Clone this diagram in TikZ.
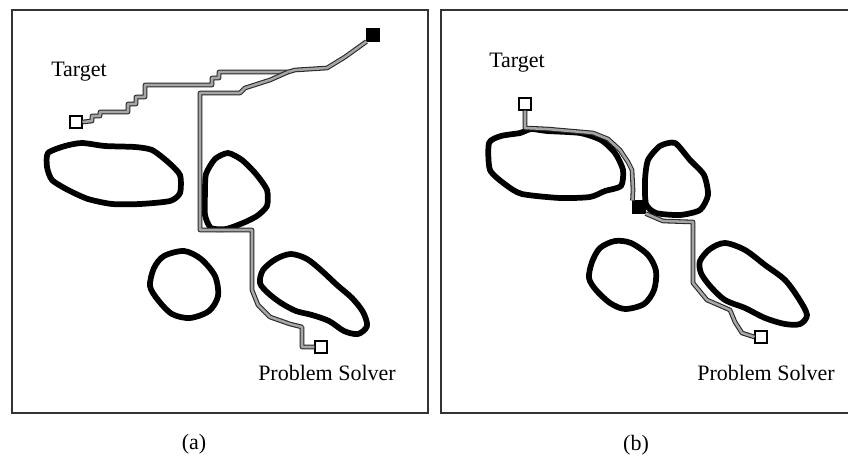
\documentclass[tikz,border=0pt]{standalone}
\usepackage{fontspec}
\setmainfont{Liberation Serif}
\usetikzlibrary{positioning}

\begin{document}
\begin{tikzpicture}[
  x=0.75pt, y=-0.75pt,
  font=\fontsize{16.5}{18}\selectfont,
  frame/.style={draw=black!80, line width=1.5pt},
  obst/.style={draw=black, line width=4.3pt, line join=round},
  trail/.style={draw=black!85, double=black!35, double distance=1.9pt, line width=0.8pt, line join=round},
  agent/.style={draw, fill=white, line width=0.8pt, minimum size=9pt, inner sep=0pt},
  solver/.style={agent, fill=black},
  lbl/.style={inner sep=0pt},
]
\useasboundingbox (0,0) rectangle (848,460);

% --- panel frames ---
\draw[frame] (12,10) rectangle (428,413);
\draw[frame] (848,10) -- (441,10) -- (441,413) -- (848,413);

% --- panel (a): obstacles ---
\draw[obst] plot[smooth cycle, tension=0.4] coordinates {(48,153) (65,146) (82,143) (105,146) (135,147) (152,150) (168,162) (180,175) (180,193) (170,201) (140,204) (112,204) (88,199) (68,190) (52,180) (47,167)};
\draw[obst] plot[smooth cycle, tension=0.4] coordinates {(206,174) (215,159) (228,153) (242,160) (256,174) (267,190) (267,206) (257,216) (243,223) (226,229) (211,228) (205,215) (205,193)};
\draw[obst] plot[smooth cycle, tension=0.5] coordinates {(164,256) (184,251) (201,259) (215,276) (218,296) (209,311) (190,318) (172,314) (158,300) (150,286) (154,268)};
\draw[obst] plot[smooth cycle, tension=0.5] coordinates {(263,270) (276,259) (291,254) (307,259) (322,271) (337,285) (352,298) (363,312) (367,326) (358,334) (344,331) (329,321) (312,315) (296,311) (281,303) (268,293) (260,283)};

% --- panel (a): agents and labels ---
\node[agent] (tgtA) at (76,122) {};
\node[solver] (startA) at (373,35) {};
\node[agent] (psA) at (321,347) {};
\node[lbl] (tgtAtxt) at (79,72) {Target};
\node[lbl] (psAtxt) at (327,373) {Problem Solver};
\node[lbl] (capA) at (194,444) {(a)};

% --- panel (a): trails ---
\coordinate (forkA) at (288,72);
\draw[trail] (tgtA.east) -- (92,121) -- (92,116) -- (100,116) -- (100,112) -- (128,112)
  -- (128,104) -- (136,104) -- (136,97) -- (145,97) -- (145,85) -- (212,85) -- (212,78)
  -- (219,78) -- (219,72) -- (forkA) -- (295,70) -- (327,68) -- (345,57) -- (startA.south west);
\draw[trail] (forkA) -- (270,80) -- (245,88) -- (240,93) -- (200,93) -- (200,230)
  -- (252,230) -- (252,290) -- (258,305) -- (270,317) -- (290,324) -- (302,327)
  -- (302,347) -- (psA.west);

% --- panel (b): obstacles ---
\draw[obst] plot[smooth cycle, tension=0.4] coordinates {(489,143) (501,136) (520,133) (531,129) (547,131) (580,133) (601,140) (615,153) (623,170) (621,186) (605,191) (590,197) (560,198) (522,194) (506,185) (490,170)};
\draw[obst] plot[smooth cycle, tension=0.4] coordinates {(648,160) (660,146) (675,143) (690,160) (704,175) (708,195) (700,210) (680,215) (656,213) (646,204) (645,180)};
\draw[obst] plot[smooth cycle, tension=0.5] coordinates {(600,248) (615,241) (631,243) (648,255) (656,271) (654,290) (644,304) (625,309) (610,303) (596,290) (589,278) (592,262)};
\draw[obst] plot[smooth cycle, tension=0.5] coordinates {(700,261) (710,249) (725,243) (745,250) (765,265) (785,280) (799,299) (807,315) (800,324) (785,324) (765,318) (745,308) (725,300) (710,286) (701,273)};

% --- panel (b): agents and labels ---
\node[agent] (tgtB) at (525,104) {};
\node[solver] (meetB) at (639,207) {};
\node[agent] (psB) at (761,337) {};
\node[lbl] (tgtBtxt) at (517,63) {Target};
\node[lbl] (psBtxt) at (766,373) {Problem Solver};
\node[lbl] (capB) at (636,445) {(b)};

% --- panel (b): trail ---
\draw[trail] (tgtB.south) -- (525,128) -- (547,129) -- (593,133) -- (608,139) -- (620,150)
  -- (628,162) -- (632,170) -- (633,190) -- (meetB.north west);
\draw[trail] (meetB.south east) -- (663,221) -- (693,222) -- (693,283) -- (707,300)
  -- (730,310) -- (735,322) -- (742,333) -- (psB.west);

\end{tikzpicture}
\end{document}
